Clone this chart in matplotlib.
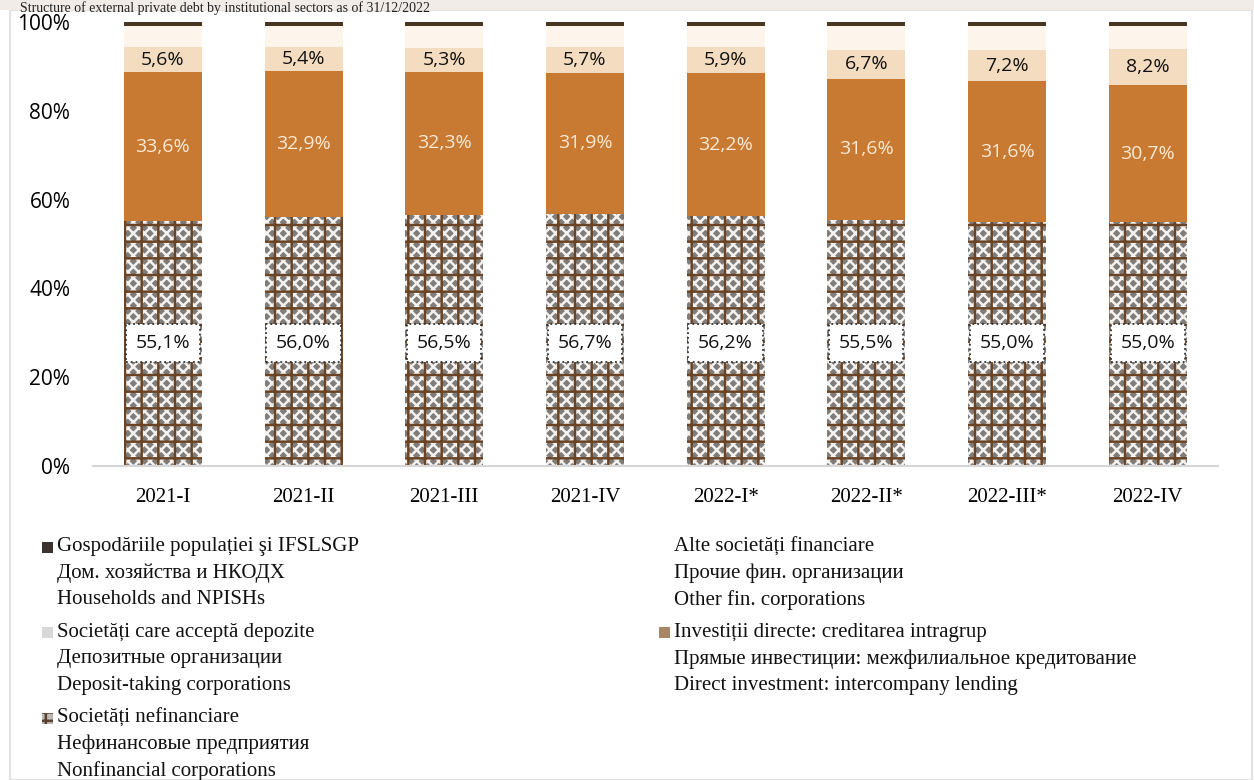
import matplotlib
matplotlib.use('Agg')
import matplotlib.pyplot as plt
import numpy as np
from matplotlib.patches import Rectangle

# Data (shares of total, %)
quarters = ['2021-I', '2021-II', '2021-III', '2021-IV',
            '2022-I*', '2022-II*', '2022-III*', '2022-IV']
nonfinancial = [55.1, 56.0, 56.5, 56.7, 56.2, 55.5, 55.0, 55.0]
direct_invest = [33.6, 32.9, 32.3, 31.9, 32.2, 31.6, 31.6, 30.7]
deposit_taking = [5.6, 5.4, 5.3, 5.7, 5.9, 6.7, 7.2, 8.2]
other_fin = [4.8, 4.8, 5.0, 4.8, 4.8, 5.3, 5.3, 5.2]
households = [0.9, 0.9, 0.9, 0.9, 0.9, 0.9, 0.9, 0.9]

SERIF = 'Liberation Serif'
SANS = 'Open Sans'

plt.rcParams['hatch.linewidth'] = 1.8

fig = plt.figure(figsize=(12.54, 7.80), dpi=100)
ax = fig.add_axes([0.0738, 0.4026, 0.8975, 0.5692])

x = np.arange(len(quarters))
w = 0.555
nf = np.array(nonfinancial) / 100
di = np.array(direct_invest) / 100
dt = np.array(deposit_taking) / 100
of = np.array(other_fin) / 100
hh = np.array(households) / 100


def pct(v):
    return f'{v:.1f}%'.replace('.', ',')


# nonfinancial: gray checker under a brown grid
ax.bar(x, nf, w, color='#7f7c79', hatch='xxx', edgecolor='#f4f2f0', linewidth=0)
ax.bar(x, nf, w, color='none', hatch='+', edgecolor='#6a4424', linewidth=0)
b1 = nf
ax.bar(x, di, w, bottom=b1, color='#c97a32', linewidth=0)
b2 = b1 + di
ax.bar(x, dt, w, bottom=b2, color='#f3dcbf', linewidth=0)
b3 = b2 + dt
ax.bar(x, of, w, bottom=b3, color='#fdf5ec', linewidth=0)
b4 = b3 + of
ax.bar(x, hh, w, bottom=b4, color='#4a3620', linewidth=0)

for i in range(len(x)):
    ax.text(x[i], 0.277, pct(nonfinancial[i]),
            ha='center', va='center', fontsize=14, family=SANS, color='#111111',
            bbox=dict(boxstyle='square,pad=0.5', facecolor='white',
                      edgecolor='#333333', linestyle=':', linewidth=1.3))
    ax.text(x[i], b1[i] + di[i] / 2, pct(direct_invest[i]),
            ha='center', va='center', fontsize=14, family=SANS, color='#fbe9d5')
    ax.text(x[i], b2[i] + dt[i] / 2, pct(deposit_taking[i]),
            ha='center', va='center', fontsize=14, family=SANS, color='#111111')

ax.set_xlim(-0.5, len(x) - 0.5)
ax.set_ylim(0, 1.0)
ax.set_yticks(np.arange(0, 1.01, 0.2))
ax.set_yticklabels([f'{int(v)}%' for v in np.arange(0, 101, 20)], family=SANS, fontsize=15)
ax.set_xticks(x)
ax.set_xticklabels(quarters, family=SERIF, fontsize=15)
ax.tick_params(length=0)
ax.tick_params(axis='y', pad=16)
ax.tick_params(axis='x', pad=16)
for s in ['top', 'right', 'left']:
    ax.spines[s].set_visible(False)
ax.spines['bottom'].set_color('#d6d6d6')
ax.spines['bottom'].set_linewidth(1.5)
for c in ax.containers:
    for p in c:
        p.set_clip_on(False)

# frame and title band
fig.patches.append(Rectangle((10 / 1254, 0), 1 - 12 / 1254, 1 - 10 / 780,
                             transform=fig.transFigure, fill=False,
                             edgecolor='#e2e2e2', linewidth=1.5))
fig.patches.append(Rectangle((0, 1 - 10 / 780), 1, 10 / 780, transform=fig.transFigure,
                             facecolor='#f1ece8', edgecolor='none'))
fig.text(0.016, 0.999, 'Structure of external private debt by institutional sectors as of 31/12/2022',
         family=SERIF, fontsize=10, va='top', ha='left', color='#222222')

# legend, drawn by hand
leg_left = [
    ('#3b3330', ['Gospodăriile populației şi IFSLSGP', 'Дом. хозяйства и НКОДХ', 'Households and NPISHs']),
    ('#d8d8d8', ['Societăți care acceptă depozite', 'Депозитные организации', 'Deposit-taking corporations']),
    ('hatch', ['Societăți nefinanciare', 'Нефинансовые предприятия', 'Nonfinancial corporations']),
]
leg_right = [
    (None, ['Alte societăți financiare', 'Прочие фин. организации', 'Other fin. corporations']),
    ('#a88766', ['Investiții directe: creditarea intragrup', 'Прямые инвестиции: межфилиальное кредитование',
                 'Direct investment: intercompany lending']),
]
line_h = 26.5 / 780
group_h = 85.5 / 780
mk_w, mk_h = 11 / 1254, 11 / 780


def draw_group(items, x_mark, x_text, y0):
    y = y0
    for col, lines in items:
        if col == 'hatch':
            fig.patches.append(Rectangle((x_mark, y - mk_h / 2), mk_w, mk_h,
                                         transform=fig.transFigure, facecolor='#bdbab6',
                                         hatch='++', edgecolor='#5a4030', linewidth=0))
        elif col is not None:
            fig.patches.append(Rectangle((x_mark, y - mk_h / 2), mk_w, mk_h,
                                         transform=fig.transFigure, facecolor=col,
                                         edgecolor='none'))
        for k, t in enumerate(lines):
            fig.text(x_text, y - k * line_h, t, family=SERIF, fontsize=15,
                     va='center', ha='left', color='#111111')
        y -= group_h


draw_group(leg_left, 42 / 1254, 57 / 1254, 1 - 547 / 780)
draw_group(leg_right, 659 / 1254, 674 / 1254, 1 - 547 / 780)

fig.savefig('out.png', dpi=100)
